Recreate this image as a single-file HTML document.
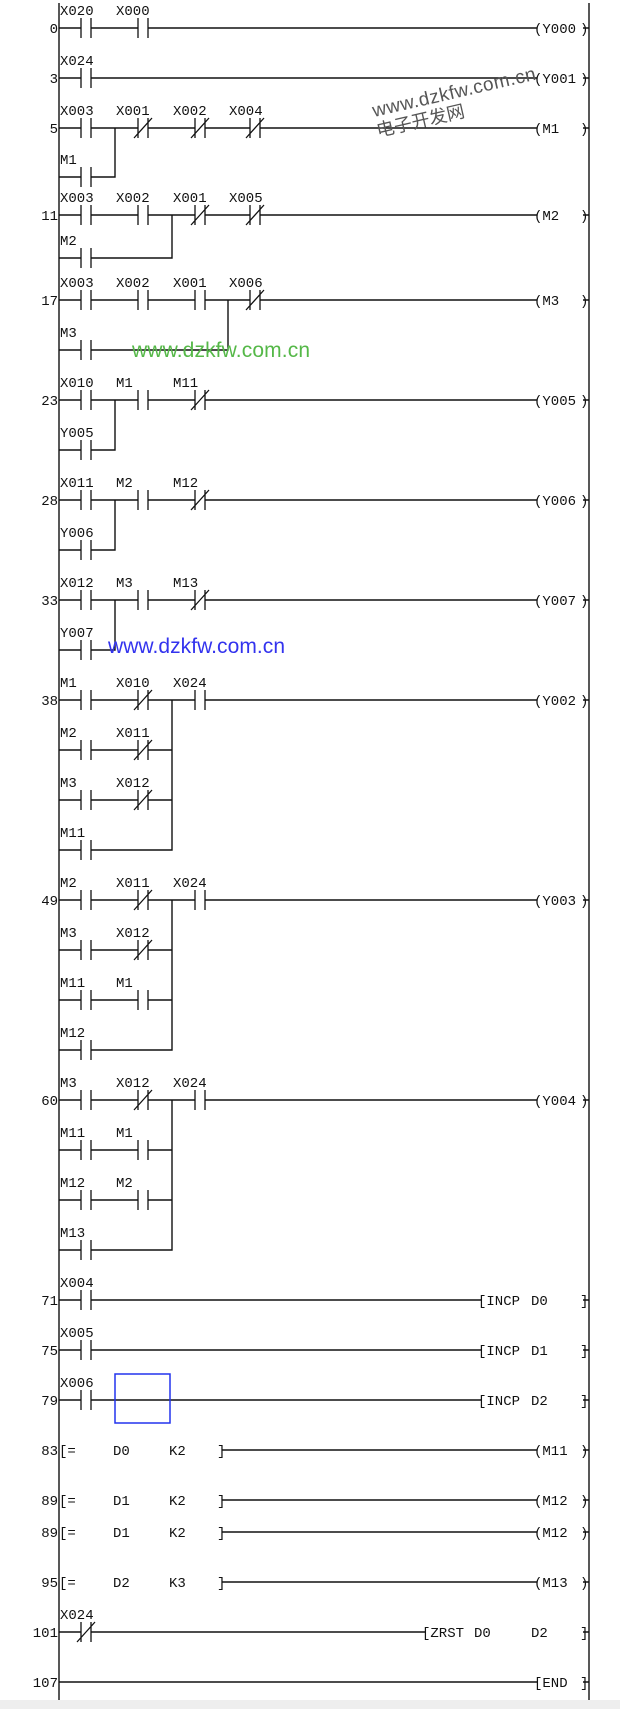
<!DOCTYPE html>
<html><head><meta charset="utf-8"><style>
html,body{margin:0;padding:0;background:#fff;width:620px;height:1709px;overflow:hidden}
svg{display:block}
text{font-family:"Liberation Mono",monospace;font-size:14px;fill:#111}
.n{text-anchor:end}
</style></head><body>
<svg width="620" height="1709" viewBox="0 0 620 1709">
<defs>
<g id="no"><rect x="-5" y="-10" width="10" height="20" fill="#fff"/><path d="M-5 -10v20M5 -10v20" stroke="#111" stroke-width="1.3" fill="none"/></g>
<g id="nc"><rect x="-5" y="-10" width="10" height="20" fill="#fff"/><path d="M-5 -10v20M5 -10v20M-9 10L9 -10" stroke="#111" stroke-width="1.3" fill="none"/></g>
</defs>
<rect x="0" y="1700" width="620" height="9" fill="#eeeeee"/>
<g stroke="#111" stroke-width="1.4" fill="none">
<path d="M59 3V1700M589 3V1700"/>
<path d="M59 28H537M59 78H537M59 128H537M59 215H537M59 300H537M59 400H537M59 500H537M59 600H537M59 700H537M59 900H537M59 1100H537"/>
<path d="M59 1300H481M59 1350H481M59 1400H481M222 1450H537M222 1500H537M222 1532H537M222 1582H537M59 1632H425M59 1682H537"/>
<path d="M59 177H115V128M59 258H172V215M59 350H228V300M59 450H115V400M59 550H115V500M59 650H115V600"/>
<path d="M59 750H172M59 800H172M59 850H172V700"/>
<path d="M59 950H172M59 1000H172M59 1050H172V900"/>
<path d="M59 1150H172M59 1200H172M59 1250H172V1100"/>
<path d="M583 28H589M583 78H589M583 128H589M583 215H589M583 300H589M583 400H589M583 500H589M583 600H589M583 700H589M583 900H589M583 1100H589M583 1300H589M583 1350H589M583 1400H589M583 1450H589M583 1500H589M583 1532H589M583 1582H589M583 1632H589M583 1682H589"/>
</g>
<use href="#no" x="86" y="28"/><use href="#no" x="143" y="28"/>
<use href="#no" x="86" y="78"/>
<use href="#no" x="86" y="128"/><use href="#nc" x="143" y="128"/><use href="#nc" x="200" y="128"/><use href="#nc" x="255" y="128"/><use href="#no" x="86" y="177"/>
<use href="#no" x="86" y="215"/><use href="#no" x="143" y="215"/><use href="#nc" x="200" y="215"/><use href="#nc" x="255" y="215"/><use href="#no" x="86" y="258"/>
<use href="#no" x="86" y="300"/><use href="#no" x="143" y="300"/><use href="#no" x="200" y="300"/><use href="#nc" x="255" y="300"/><use href="#no" x="86" y="350"/>
<use href="#no" x="86" y="400"/><use href="#no" x="143" y="400"/><use href="#nc" x="200" y="400"/><use href="#no" x="86" y="450"/>
<use href="#no" x="86" y="500"/><use href="#no" x="143" y="500"/><use href="#nc" x="200" y="500"/><use href="#no" x="86" y="550"/>
<use href="#no" x="86" y="600"/><use href="#no" x="143" y="600"/><use href="#nc" x="200" y="600"/><use href="#no" x="86" y="650"/>
<use href="#no" x="86" y="700"/><use href="#nc" x="143" y="700"/><use href="#no" x="200" y="700"/>
<use href="#no" x="86" y="750"/><use href="#nc" x="143" y="750"/>
<use href="#no" x="86" y="800"/><use href="#nc" x="143" y="800"/>
<use href="#no" x="86" y="850"/>
<use href="#no" x="86" y="900"/><use href="#nc" x="143" y="900"/><use href="#no" x="200" y="900"/>
<use href="#no" x="86" y="950"/><use href="#nc" x="143" y="950"/>
<use href="#no" x="86" y="1000"/><use href="#no" x="143" y="1000"/>
<use href="#no" x="86" y="1050"/>
<use href="#no" x="86" y="1100"/><use href="#nc" x="143" y="1100"/><use href="#no" x="200" y="1100"/>
<use href="#no" x="86" y="1150"/><use href="#no" x="143" y="1150"/>
<use href="#no" x="86" y="1200"/><use href="#no" x="143" y="1200"/>
<use href="#no" x="86" y="1250"/>
<use href="#no" x="86" y="1300"/><use href="#no" x="86" y="1350"/><use href="#no" x="86" y="1400"/>
<use href="#nc" x="86" y="1632"/>
<text class="n" x="58" y="33">0</text><text class="n" x="58" y="83">3</text><text class="n" x="58" y="133">5</text>
<text class="n" x="58" y="220">11</text><text class="n" x="58" y="305">17</text><text class="n" x="58" y="405">23</text>
<text class="n" x="58" y="505">28</text><text class="n" x="58" y="605">33</text><text class="n" x="58" y="705">38</text>
<text class="n" x="58" y="905">49</text><text class="n" x="58" y="1105">60</text><text class="n" x="58" y="1305">71</text>
<text class="n" x="58" y="1355">75</text><text class="n" x="58" y="1405">79</text><text class="n" x="58" y="1455">83</text>
<text class="n" x="58" y="1505">89</text><text class="n" x="58" y="1537">89</text><text class="n" x="58" y="1587">95</text>
<text class="n" x="58" y="1637">101</text><text class="n" x="58" y="1687">107</text>
<text x="60" y="15">X020</text><text x="116" y="15">X000</text>
<text x="60" y="65">X024</text>
<text x="60" y="115">X003</text><text x="116" y="115">X001</text><text x="173" y="115">X002</text><text x="229" y="115">X004</text>
<text x="60" y="164">M1</text>
<text x="60" y="202">X003</text><text x="116" y="202">X002</text><text x="173" y="202">X001</text><text x="229" y="202">X005</text>
<text x="60" y="245">M2</text>
<text x="60" y="287">X003</text><text x="116" y="287">X002</text><text x="173" y="287">X001</text><text x="229" y="287">X006</text>
<text x="60" y="337">M3</text>
<text x="60" y="387">X010</text><text x="116" y="387">M1</text><text x="173" y="387">M11</text>
<text x="60" y="437">Y005</text>
<text x="60" y="487">X011</text><text x="116" y="487">M2</text><text x="173" y="487">M12</text>
<text x="60" y="537">Y006</text>
<text x="60" y="587">X012</text><text x="116" y="587">M3</text><text x="173" y="587">M13</text>
<text x="60" y="637">Y007</text>
<text x="60" y="687">M1</text><text x="116" y="687">X010</text><text x="173" y="687">X024</text>
<text x="60" y="737">M2</text><text x="116" y="737">X011</text>
<text x="60" y="787">M3</text><text x="116" y="787">X012</text>
<text x="60" y="837">M11</text>
<text x="60" y="887">M2</text><text x="116" y="887">X011</text><text x="173" y="887">X024</text>
<text x="60" y="937">M3</text><text x="116" y="937">X012</text>
<text x="60" y="987">M11</text><text x="116" y="987">M1</text>
<text x="60" y="1037">M12</text>
<text x="60" y="1087">M3</text><text x="116" y="1087">X012</text><text x="173" y="1087">X024</text>
<text x="60" y="1137">M11</text><text x="116" y="1137">M1</text>
<text x="60" y="1187">M12</text><text x="116" y="1187">M2</text>
<text x="60" y="1237">M13</text>
<text x="60" y="1287">X004</text><text x="60" y="1337">X005</text><text x="60" y="1387">X006</text>
<text x="60" y="1619">X024</text>
<text x="534" y="33">(Y000</text><text x="580" y="33">)</text>
<text x="534" y="83">(Y001</text><text x="580" y="83">)</text>
<text x="534" y="133">(M1</text><text x="580" y="133">)</text>
<text x="534" y="220">(M2</text><text x="580" y="220">)</text>
<text x="534" y="305">(M3</text><text x="580" y="305">)</text>
<text x="534" y="405">(Y005</text><text x="580" y="405">)</text>
<text x="534" y="505">(Y006</text><text x="580" y="505">)</text>
<text x="534" y="605">(Y007</text><text x="580" y="605">)</text>
<text x="534" y="705">(Y002</text><text x="580" y="705">)</text>
<text x="534" y="905">(Y003</text><text x="580" y="905">)</text>
<text x="534" y="1105">(Y004</text><text x="580" y="1105">)</text>
<text x="534" y="1455">(M11</text><text x="580" y="1455">)</text>
<text x="534" y="1505">(M12</text><text x="580" y="1505">)</text>
<text x="534" y="1537">(M12</text><text x="580" y="1537">)</text>
<text x="534" y="1587">(M13</text><text x="580" y="1587">)</text>
<text x="534" y="1687">[END</text><text x="580" y="1687">]</text>
<text x="478" y="1305">[INCP</text><text x="531" y="1305">D0</text><text x="580" y="1305">]</text>
<text x="478" y="1355">[INCP</text><text x="531" y="1355">D1</text><text x="580" y="1355">]</text>
<text x="478" y="1405">[INCP</text><text x="531" y="1405">D2</text><text x="580" y="1405">]</text>
<text x="422" y="1637">[ZRST</text><text x="474" y="1637">D0</text><text x="531" y="1637">D2</text><text x="580" y="1637">]</text>
<text x="59" y="1455">[=</text><text x="113" y="1455">D0</text><text x="169" y="1455">K2</text><text x="217" y="1455">]</text>
<text x="59" y="1505">[=</text><text x="113" y="1505">D1</text><text x="169" y="1505">K2</text><text x="217" y="1505">]</text>
<text x="59" y="1537">[=</text><text x="113" y="1537">D1</text><text x="169" y="1537">K2</text><text x="217" y="1537">]</text>
<text x="59" y="1587">[=</text><text x="113" y="1587">D2</text><text x="169" y="1587">K3</text><text x="217" y="1587">]</text>
<rect x="115" y="1374" width="55" height="49" fill="none" stroke="#2233ee" stroke-width="1.5"/>
<text x="374" y="117" transform="rotate(-13 374 117)" style="font-family:'Liberation Sans',sans-serif;font-size:19px;fill:#555;letter-spacing:0.5px">www.dzkfw.com.cn</text>
<text x="378" y="137" transform="rotate(-13 378 137)" style="font-family:'Liberation Sans','Noto Sans CJK SC',sans-serif;font-size:18px;fill:#555">电子开发网</text>
<text x="132" y="357" textLength="178" style="font-family:'Liberation Sans',sans-serif;font-size:21px;fill:#55b848">www.dzkfw.com.cn</text>
<text x="108" y="653" textLength="177" style="font-family:'Liberation Sans',sans-serif;font-size:21px;fill:#3333ee">www.dzkfw.com.cn</text>
</svg>
</body></html>
